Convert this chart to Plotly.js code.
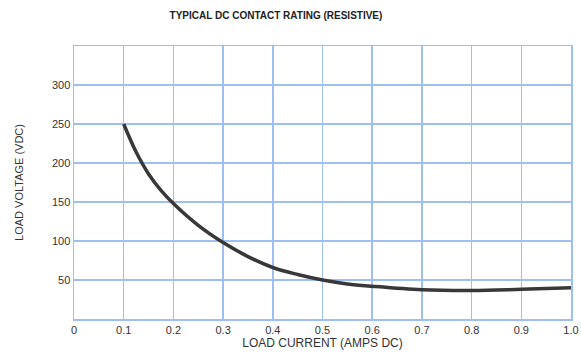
<!DOCTYPE html>
<html>
<head>
<meta charset="utf-8">
<script src="https://cdn.plot.ly/plotly-3.0.1.min.js"></script>
<style>html,body{margin:0;padding:0;background:#fff;}#chart{width:581px;height:353px;}</style>
</head>
<body>
<div id="chart"></div>
<script>
// Data
const loadCurrent = [0.1, 0.125, 0.15, 0.175, 0.2, 0.25, 0.3, 0.35, 0.4, 0.45, 0.5, 0.55, 0.6, 0.7, 0.8, 0.9, 1.0];
const loadVoltage = [250, 214, 186, 165, 148, 120, 98, 80, 66, 57, 50, 45, 42, 37.5, 36.5, 38, 40];
const xTickVals = [0, 0.1, 0.2, 0.3, 0.4, 0.5, 0.6, 0.7, 0.8, 0.9, 1.0];
const xTickText = ["0", "0.1", "0.2", "0.3", "0.4", "0.5", "0.6", "0.7", "0.8", "0.9", "1.0"];
const yTickVals = [50, 100, 150, 200, 250, 300];
const yTickText = ["50", "100", "150", "200", "250", "300"];

const gridColor = "#9fbef4";
const fontFam = "'Liberation Sans Narrow', 'Liberation Sans', Arial, sans-serif";

const trace = {
  x: loadCurrent, y: loadVoltage,
  type: "scatter", mode: "lines",
  line: {color: "#383838", width: 3.5, shape: "spline", smoothing: 1},
  hoverinfo: "skip"
};

const layout = {
  width: 581, height: 353,
  margin: {l: 74, r: 10, t: 46, b: 34},
  paper_bgcolor: "#ffffff", plot_bgcolor: "#ffffff",
  showlegend: false,
  font: {family: fontFam, color: "#333333", size: 11},
  title: {
    text: "<b>TYPICAL DC CONTACT RATING (RESISTIVE)</b>",
    font: {family: fontFam, size: 10, color: "#222222"},
    x: 0.475, xanchor: "center", y: 0.955, yanchor: "middle"
  },
  xaxis: {
    range: [0, 1.0], tickvals: xTickVals, ticktext: xTickText,
    showgrid: true, gridcolor: gridColor, gridwidth: 1.5,
    showline: true, linecolor: gridColor, linewidth: 1.5, mirror: true,
    zeroline: false, ticks: "", ticklen: 0,
    tickfont: {family: fontFam, size: 11, color: "#333333"},
    title: {text: "LOAD CURRENT (AMPS DC)", font: {family: fontFam, size: 12, color: "#333333"}, standoff: 3},
    fixedrange: true
  },
  yaxis: {
    range: [0, 350], tickvals: yTickVals, ticktext: yTickText,
    showgrid: true, gridcolor: gridColor, gridwidth: 1.5,
    showline: true, linecolor: gridColor, linewidth: 1.5, mirror: true,
    zeroline: false, ticks: "", ticklen: 0,
    tickfont: {family: fontFam, size: 11, color: "#333333"},
    title: {text: "LOAD VOLTAGE (VDC)", font: {family: fontFam, size: 11, color: "#333333"}, standoff: 26},
    fixedrange: true
  }
};

Plotly.newPlot("chart", [trace], layout, {displayModeBar: false, staticPlot: true});
</script>
</body>
</html>
